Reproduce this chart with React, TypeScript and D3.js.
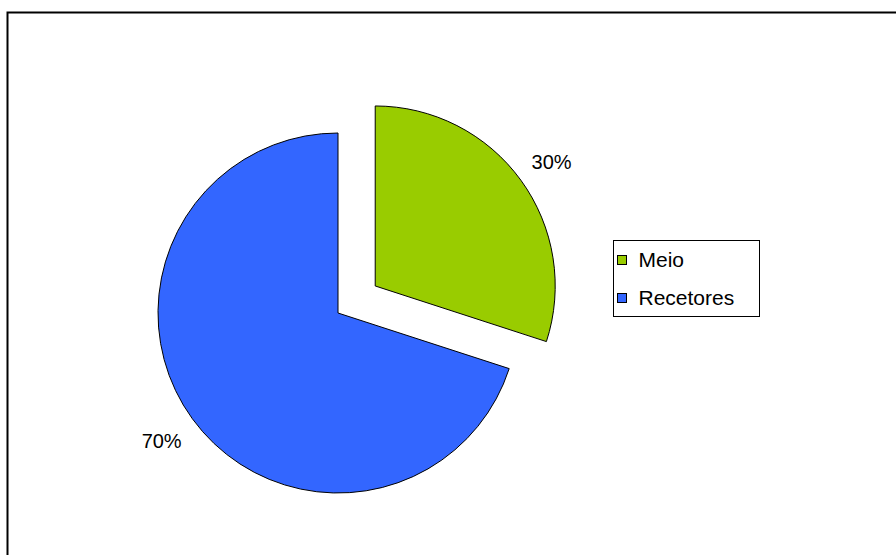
import React from "react";
import * as d3 from "d3";

const categories = ["Meio", "Recetores"];
const values = [30, 70];
const labels = ["30%", "70%"];
const colors = ["#99CC00", "#3366FF"];

export default function App() {
  const W = 896, H = 555;
  const cx = 338, cy = 313, r = 180;
  const explode = 46;
  const pie = d3.pie<number>().sort(null).value((d) => d);
  const arcs = pie(values);
  const arc = d3.arc<d3.PieArcDatum<number>>().innerRadius(0).outerRadius(r);
  const labelArc = d3.arc<d3.PieArcDatum<number>>().innerRadius(r + 38).outerRadius(r + 38);
  return (
    <svg width={W} height={H} style={{ position: "absolute", left: 0, top: 0 }} fontFamily="Liberation Sans, Arial, sans-serif">
      <rect x={0} y={0} width={W} height={H} fill="#fff" />
      <rect x={7.5} y={12.5} width={W + 20} height={H + 20} fill="none" stroke="#000" strokeWidth={2} />
      {arcs.map((a, i) => {
        const mid = (a.startAngle + a.endAngle) / 2;
        const off = i === 0 ? explode : 0;
        const dx = Math.sin(mid) * off, dy = -Math.cos(mid) * off;
        const [lx, ly] = labelArc.centroid(a);
        return (
          <g key={categories[i]} transform={`translate(${cx + dx},${cy + dy})`}>
            <path d={arc(a) || ""} fill={colors[i]} stroke="#000" strokeWidth={1} />
            <text x={lx} y={ly + (i === 0 ? 11 : 7)} fontSize={20} textAnchor="middle" fill="#000">
              {labels[i]}
            </text>
          </g>
        );
      })}
      <rect x={613.5} y={240.5} width={146} height={76} fill="#fff" stroke="#000" strokeWidth={1} />
      {categories.map((c, i) => (
        <g key={c} transform={`translate(617.5,${255.5 + i * 38})`}>
          <rect x={0} y={0} width={9} height={9} fill={colors[i]} stroke="#000" strokeWidth={1} />
          <text x={21} y={11.2} fontSize={21} fill="#000">{c}</text>
        </g>
      ))}
    </svg>
  );
}
